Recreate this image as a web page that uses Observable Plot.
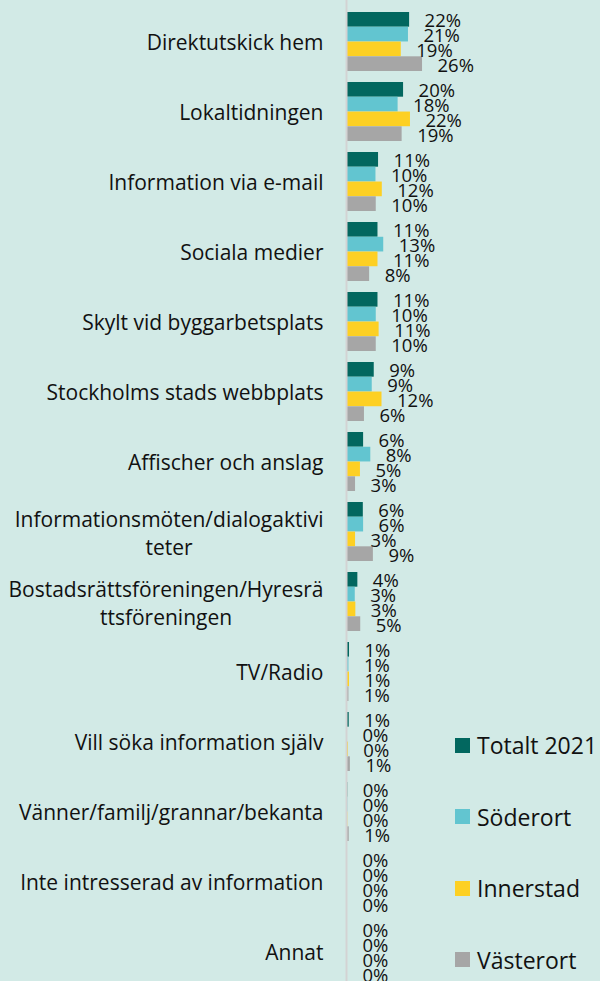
<!DOCTYPE html>
<html>
<head>
<meta charset="utf-8">
<script src="https://cdn.jsdelivr.net/npm/d3@7"></script>
<script src="https://cdn.jsdelivr.net/npm/@observablehq/plot@0.6"></script>
<style>
  html, body { margin: 0; padding: 0; background: #d2eae6; }
  #wrap { position: relative; width: 600px; height: 981px; overflow: hidden; background: #d2eae6; font-family: 'Open Sans', sans-serif; }
  #legend { position: absolute; left: 455px; top: 0; }
  .item { position: absolute; left: 0; display: flex; align-items: center; white-space: nowrap; font-size: 23px; color: #111; }
  .sw { width: 15px; height: 15px; margin-right: 7px; flex: none; }
</style>
</head>
<body>
<div id="wrap"><div id="chart"></div><div id="legend"></div></div>
<script>
const categories = [
  "Direktutskick hem",
  "Lokaltidningen",
  "Information via e-mail",
  "Sociala medier",
  "Skylt vid byggarbetsplats",
  "Stockholms stads webbplats",
  "Affischer och anslag",
  "Informationsmöten/dialogaktiviteter",
  "Bostadsrättsföreningen/Hyresrättsföreningen",
  "TV/Radio",
  "Vill söka information själv",
  "Vänner/familj/grannar/bekanta",
  "Inte intresserad av information",
  "Annat"
];
const categoryLabels = [
  "Direktutskick hem",
  "Lokaltidningen",
  "Information via e-mail",
  "Sociala medier",
  "Skylt vid byggarbetsplats",
  "Stockholms stads webbplats",
  "Affischer och anslag",
  "Informationsmöten/dialogaktivi\nteter",
  "Bostadsrättsföreningen/Hyresrä\nttsföreningen",
  "TV/Radio",
  "Vill söka information själv",
  "Vänner/familj/grannar/bekanta",
  "Inte intresserad av information",
  "Annat"
];
const series = ["Totalt 2021", "Söderort", "Innerstad", "Västerort"];
const colors = ["#02675f", "#62c5d0", "#fdd023", "#a6a6a6"];
const totalt    = [21.6, 19.5, 10.8, 10.6, 10.6, 9.3, 5.6, 5.5, 3.6, 0.7, 0.6, 0.1, 0, 0];
const soderort  = [21.2, 17.6,  9.9, 12.6, 10.0, 8.6, 8.1, 5.6, 2.7, 0.5, 0.0, 0.1, 0, 0];
const innerstad = [18.7, 21.9, 12.1, 10.6, 11.0, 12.0, 4.5, 2.8, 2.9, 0.7, 0.3, 0.1, 0, 0];
const vasterort = [26.1, 19.0, 10.0,  7.7, 10.0, 5.9, 2.8, 9.0, 4.6, 0.5, 1.0, 0.6, 0, 0];
const values = [totalt, soderort, innerstad, vasterort];

const rows = [];
categories.forEach((c, ci) => series.forEach((s, si) => rows.push({category: c, series: s, si, value: values[si][ci]})));

// y band scale parameters
const yRange = [3.7, 988.6];
const padIn = 0.16, padOut = 0.08;
const step = (yRange[1] - yRange[0]) / (categories.length - padIn + 2 * padOut);
const bw = step * (1 - padIn);
const sub = bw / series.length;

const labelSize = 21;
const ctx = document.createElement("canvas").getContext("2d");
ctx.font = labelSize + "px 'Open Sans'";
const labelGap = 24;

const marks = [];
series.forEach((s, si) => {
  const d = rows.filter(r => r.si === si);
  marks.push(Plot.barX(d, {
    x: "value", y: "category", fill: colors[si],
    insetTop: si * sub, insetBottom: (series.length - 1 - si) * sub
  }));
});
marks.push(Plot.ruleX([0], {stroke: "#d3d3d3", strokeWidth: 2, dx: -1}));
series.forEach((s, si) => {
  const d = rows.filter(r => r.si === si);
  marks.push(Plot.text(d, {
    x: "value", y: "category", text: r => Math.round(r.value) + "%",
    textAnchor: "start", dx: 15, dy: -bw / 2 + sub * (si + 0.5) + 1.5,
    fontSize: 18.5, fill: "#111"
  }));
});
// category labels
const single = categories.map((c, i) => ({c, label: categoryLabels[i]})).filter(d => !d.label.includes("\n"));
marks.push(Plot.text(single, {
  x: () => 0, y: "c", text: "label", textAnchor: "end", dx: -labelGap, dy: 1, fontSize: labelSize, fill: "#111"
}));
categories.forEach((c, i) => {
  const label = categoryLabels[i];
  if (!label.includes("\n")) return;
  const w = Math.max(...label.split("\n").map(l => ctx.measureText(l).width));
  marks.push(Plot.text([{c, label}], {
    x: () => 0, y: "c", text: "label", textAnchor: "middle", lineHeight: 1.33,
    dx: -labelGap - w / 2, fontSize: labelSize, fill: "#111"
  }));
});

const chart = Plot.plot({
  width: 600, height: 981,
  marginLeft: 347, marginRight: 0, marginTop: 0, marginBottom: 0,
  style: {background: "#d2eae6", fontFamily: "'Open Sans', sans-serif", overflow: "visible"},
  x: {domain: [0, 88], axis: null},
  y: {domain: categories, range: yRange, paddingInner: padIn, paddingOuter: padOut, axis: null},
  marks
});
document.getElementById("chart").appendChild(chart);

const legend = document.getElementById("legend");
const legendTop = 745, legendStep = 71.5;
series.forEach((s, si) => {
  const it = document.createElement("div");
  it.className = "item";
  it.style.top = (legendTop + si * legendStep) + "px";
  it.style.transform = "translateY(-50%)";
  const sw = document.createElement("span");
  sw.className = "sw";
  sw.style.background = colors[si];
  const tx = document.createElement("span");
  tx.textContent = s;
  it.appendChild(sw); it.appendChild(tx);
  legend.appendChild(it);
});
</script>
</body>
</html>
